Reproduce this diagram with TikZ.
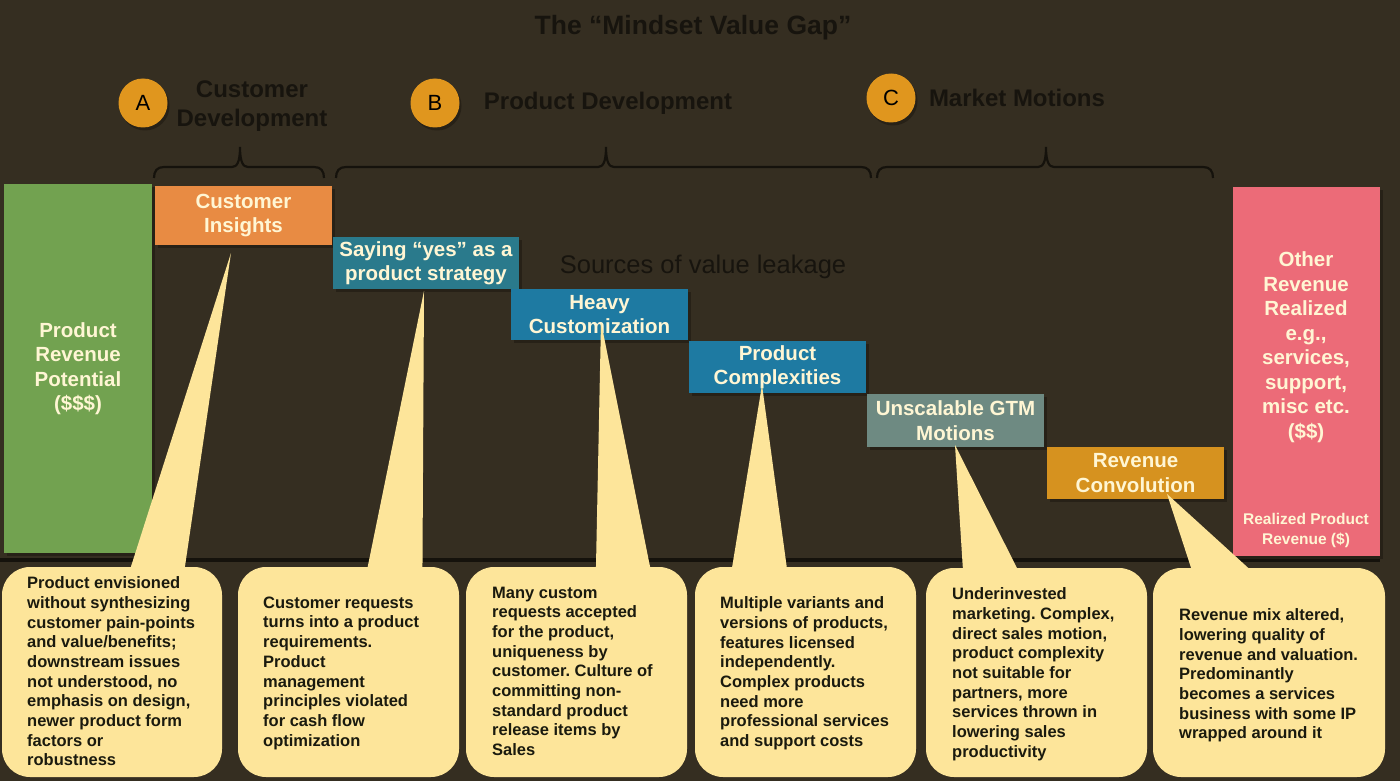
\documentclass[tikz,border=0pt]{standalone}
\usepackage{fontspec}
\setmainfont{Liberation Sans}
\frenchspacing
\usetikzlibrary{shadows}
\definecolor{bgc}{HTML}{352E21}
\definecolor{headc}{HTML}{17140E}
\definecolor{bracec}{HTML}{15120C}
\definecolor{circc}{HTML}{E0961E}
\definecolor{shadc}{HTML}{272117}
\definecolor{greenc}{HTML}{72A250}
\definecolor{cic}{HTML}{E88B43}
\definecolor{yesc}{HTML}{2A7A8C}
\definecolor{bluec}{HTML}{1E7AA2}
\definecolor{gtmc}{HTML}{6E8A82}
\definecolor{revc}{HTML}{D6921F}
\definecolor{pinkc}{HTML}{EC6B78}
\definecolor{bubc}{HTML}{FDE59A}
\definecolor{creamc}{HTML}{FFF6D4}
\definecolor{btextc}{HTML}{1A1A0E}
\newcommand\mybrace[3]{%
  \draw[bracec, line width=2.2pt]
    (#1,178) .. controls (#1,171) and (#1+3,167) .. (#1+10,167)
    -- (#2-8,167) .. controls (#2-3,167) and (#2,162) .. (#2,147)
    .. controls (#2,162) and (#2+3,167) .. (#2+8,167)
    -- (#3-10,167) .. controls (#3-3,167) and (#3,171) .. (#3,178);}
\begin{document}
\begin{tikzpicture}[x=1pt,y=-1pt,
  boxtext/.style={inner sep=0pt, align=center, text=creamc,
    font=\bfseries\fontsize{20.5}{24.5}\selectfont},
  box/.style={boxtext,
    drop shadow={shadow xshift=3pt, shadow yshift=-3pt, fill=shadc, opacity=1}},
  circ/.style={circle, fill=circc, minimum size=49pt, inner sep=0pt,
    font=\fontsize{22}{22}\selectfont, text=black,
    drop shadow={shadow xshift=2pt, shadow yshift=-3pt, fill=shadc, opacity=1}},
  head/.style={text=headc, font=\bfseries\fontsize{24}{29}\selectfont, align=center, inner sep=0pt},
  bubble/.style={fill=bubc, rounded corners=28pt, inner sep=0pt},
  wedge/.style={fill=bubc},
  btext/.style={anchor=north west, align=left, inner sep=0pt, text=btextc,
    font=\bfseries\fontsize{16.5}{19.7}\selectfont}]
\useasboundingbox (0,0) rectangle (1400,781);
\fill[bgc] (0,0) rectangle (1400,781);

% title
\node[text=headc, font=\bfseries\fontsize{26.5}{30}\selectfont, inner sep=0pt] (title) at (693,28) {The “Mindset Value Gap”};

% phase circles and labels
\node[circ] (A) at (143,103) {A};
\node[circ] (B) at (435,103) {B};
\node[circ] (C) at (891,98) {C};
\node[head] (la) at (252,106) {Customer\\Development};
\node[head] (lb) at (608,103) {Product Development};
\node[head] (lc) at (1017,98) {Market Motions};

% braces
\mybrace{154}{240}{324}
\mybrace{336}{606}{871}
\mybrace{877}{1046}{1213}

% baseline
\draw[bracec, line width=4pt] (0,560) -- (1380,560);

% boxes
\node[box, fill=greenc, minimum width=148pt, minimum height=369pt] (prp) at (78,368.5) {Product\\Revenue\\Potential\\(\$\$\$)};
\node[box, fill=cic, minimum width=177pt, minimum height=59pt] (ci) at (243.5,215.5) {Customer\\Insights};
\node[box, fill=yesc, minimum width=186pt, minimum height=52pt] (yes) at (426,263) {Saying “yes” as a\\product strategy};
\node[box, fill=bluec, minimum width=177pt, minimum height=51pt] (hc) at (599.5,314.5) {Heavy\\Customization};
\node[box, fill=bluec, minimum width=177pt, minimum height=52pt] (pc) at (777.5,367) {Product\\Complexities};
\node[box, fill=gtmc, minimum width=177pt, minimum height=53pt] (gtm) at (955.5,420.5) {Unscalable GTM\\Motions};
\node[box, fill=revc, minimum width=177pt, minimum height=52pt] (rc) at (1135.5,473) {Revenue\\Convolution};
\node[box, fill=pinkc, minimum width=147pt, minimum height=369pt] (orr) at (1306.5,371.5) {};
\node[boxtext] (orrt) at (1306,347) {Other\\Revenue\\Realized\\e.g.,\\services,\\support,\\misc etc.\\(\$\$)};
\node[boxtext, font=\bfseries\fontsize{15.5}{20}\selectfont] (rpr) at (1306,530) {Realized Product\\Revenue (\$)};

% section label
\node[text=headc, font=\fontsize{25.5}{30}\selectfont, inner sep=0pt] (src) at (703,267) {Sources of value leakage};

% callout wedges
\fill[wedge] (231,253) -- (126.7,580) -- (183,580) -- cycle;
\fill[wedge] (424,291) -- (365,580) -- (422.4,580) -- cycle;
\fill[wedge] (601,322) -- (595.7,580) -- (652.7,580) -- cycle;
\fill[wedge] (762,385) -- (730,580) -- (788.5,580) -- cycle;
\fill[wedge] (955,445) -- (963.6,580) -- (1023,580) -- cycle;
\fill[wedge] (1167,494) -- (1195,580) -- (1261.5,580) -- cycle;

% bubbles
\node[bubble, minimum width=220pt, minimum height=210pt] (b1) at (112,672) {};
\node[bubble, minimum width=221pt, minimum height=210pt] (b2) at (348.5,672) {};
\node[bubble, minimum width=221pt, minimum height=210pt] (b3) at (576.5,672) {};
\node[bubble, minimum width=221pt, minimum height=210pt] (b4) at (805.5,672) {};
\node[bubble, minimum width=221pt, minimum height=209pt] (b5) at (1036.5,672.5) {};
\node[bubble, minimum width=232pt, minimum height=209pt] (b6) at (1269,672.5) {};

\node[btext] (t1) at (27,576.5) {Product envisioned\\without synthesizing\\customer pain-points\\and value/benefits;\\downstream issues\\not understood, no\\emphasis on design,\\newer product form\\factors or\\robustness};
\node[btext] (t2) at (263,596.5) {Customer requests\\turns into a product\\requirements.\\Product\\management\\principles violated\\for cash flow\\optimization};
\node[btext] (t3) at (492,586.5) {Many custom\\requests accepted\\for the product,\\uniqueness by\\customer. Culture of\\committing non-\\standard product\\release items by\\Sales};
\node[btext] (t4) at (720,596.5) {Multiple variants and\\versions of products,\\features licensed\\independently.\\Complex products\\need more\\professional services\\and support costs};
\node[btext] (t5) at (952,587.5) {Underinvested\\marketing. Complex,\\direct sales motion,\\product complexity\\not suitable for\\partners, more\\services thrown in\\lowering sales\\productivity};
\node[btext] (t6) at (1179,608.5) {Revenue mix altered,\\lowering quality of\\revenue and valuation.\\Predominantly\\becomes a services\\business with some IP\\wrapped around it};
\end{tikzpicture}
\end{document}
